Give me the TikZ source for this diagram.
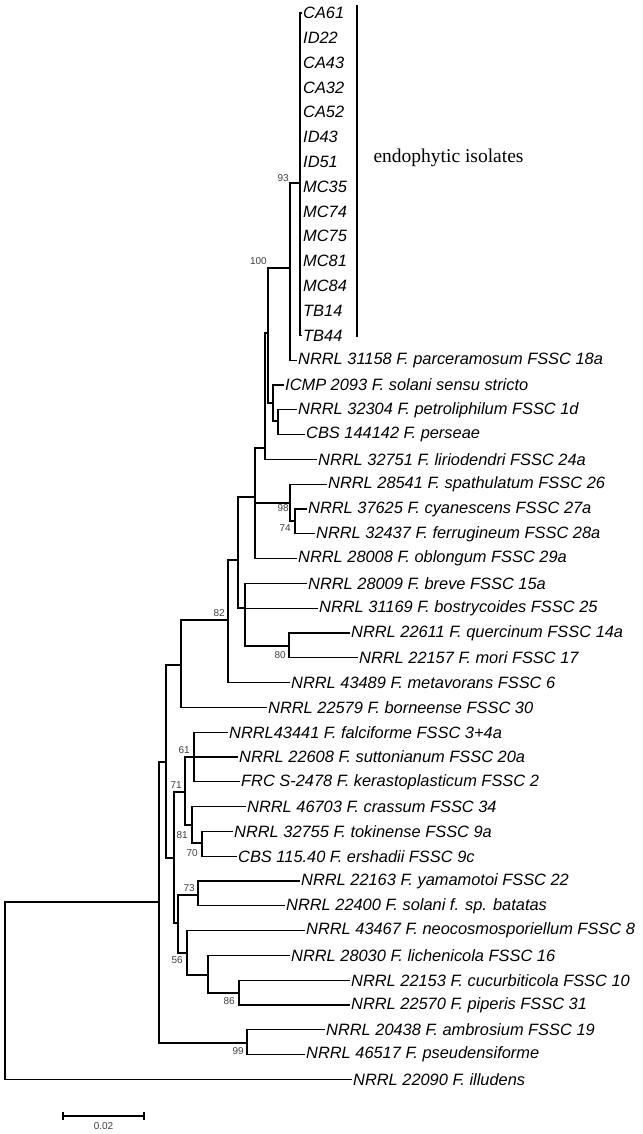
\documentclass[tikz,border=0pt]{standalone}
\usepackage{fontspec}
\setsansfont{Liberation Sans}
\setmainfont{Liberation Serif}
\tikzset{>=latex}
\tikzset{
  leaf/.style = {anchor=west, inner sep=1pt, font=\sffamily\itshape\fontsize{16.4}{16.4}\selectfont},
  boot/.style = {font=\sffamily\fontsize{10}{10}\selectfont, text=black!75, inner sep=1pt},
  branch/.style = {line width=1.1pt}
}
\begin{document}
\begin{tikzpicture}[x=1pt,y=-1pt]
  \useasboundingbox (0,0) rectangle (642,1134);
  % leaves
  \foreach \i/\lx/\txt in {
    0/302/CA61, 1/302/ID22, 2/302/CA43, 3/302/CA32, 4/302/CA52, 5/302/ID43,
    6/302/ID51, 7/302/MC35, 8/302/MC74, 9/302/MC75, 10/302/MC81, 11/302/MC84,
    12/302/TB14, 13/302/TB44,
    14/297/NRRL 31158 F. parceramosum FSSC 18a,
    15/284/ICMP 2093 F. solani sensu stricto,
    16/297/NRRL 32304 F. petroliphilum FSSC 1d,
    17/305/CBS 144142 F. perseae,
    18/317/NRRL 32751 F. liriodendri FSSC 24a,
    19/327/NRRL 28541 F. spathulatum FSSC 26,
    20/307/NRRL 37625 F. cyanescens FSSC 27a,
    21/315/NRRL 32437 F. ferrugineum FSSC 28a,
    22/297/NRRL 28008 F. oblongum FSSC 29a,
    23/307/NRRL 28009 F. breve FSSC 15a,
    24/318/NRRL 31169 F. bostrycoides FSSC 25,
    25/350/NRRL 22611 F. quercinum FSSC 14a,
    26/358/NRRL 22157 F. mori FSSC 17,
    27/290/NRRL 43489 F. metavorans FSSC 6,
    28/267/NRRL 22579 F. borneense FSSC 30,
    29/228/NRRL43441 F. falciforme FSSC 3+4a,
    30/238/NRRL 22608 F. suttonianum FSSC 20a,
    31/240/FRC S-2478 F. kerastoplasticum FSSC 2,
    32/246/NRRL 46703 F. crassum FSSC 34,
    33/233/NRRL 32755 F. tokinense FSSC 9a,
    34/237/CBS 115.40 F. ershadii FSSC 9c,
    35/300/NRRL 22163 F. yamamotoi FSSC 22,
    36/285/NRRL 22400 F. solani f. sp. batatas,
    37/305/NRRL 43467 F. neocosmosporiellum FSSC 8,
    38/290/NRRL 28030 F. lichenicola FSSC 16,
    39/350/NRRL 22153 F. cucurbiticola FSSC 10,
    40/350/NRRL 22570 F. piperis FSSC 31,
    41/325/NRRL 20438 F. ambrosium FSSC 19,
    42/305/NRRL 46517 F. pseudensiforme,
    43/352/NRRL 22090 F. illudens}
    \node[leaf] (l\i) at (\lx,13+24.8*\i) {\txt};

  % internal nodes
  \coordinate (niso) at (300,183);
  \coordinate (n93) at (290,268);
  \coordinate (nX) at (268,333);
  \coordinate (nICMP) at (273,403);
  \coordinate (nPet) at (278,421);
  \coordinate (nY) at (265,448);
  \coordinate (nW) at (255,497);
  \coordinate (n98) at (290,503);
  \coordinate (n74) at (295,521);
  \coordinate (nV) at (238,560);
  \coordinate (nBrev) at (245,608);
  \coordinate (n80) at (289,646);
  \coordinate (n82) at (228,620);
  \coordinate (nBorn) at (181,665);
  \coordinate (nUp) at (166,762);
  \coordinate (nLow) at (174,858);
  \coordinate (n71) at (185,792);
  \coordinate (n61) at (194,757);
  \coordinate (n81) at (192,825);
  \coordinate (n70) at (202,843);
  \coordinate (nSol) at (178,923);
  \coordinate (n73) at (198,895);
  \coordinate (n56) at (187,953);
  \coordinate (nLich) at (208,975);
  \coordinate (n86) at (239,993);
  \coordinate (nIn) at (159,902);
  \coordinate (n99) at (247,1043);
  \coordinate (root) at (5,1080);

  % branches
  \begin{scope}[branch]
    \draw (niso) |- (l0.west) (niso) |- (l13.west);
    \draw (n93) |- (niso) (n93) |- (l14.west);
    \draw (nX) |- (n93) (nX) |- (nICMP);
    \draw (nICMP) |- (l15.west) (nICMP) |- (nPet);
    \draw (nPet) |- (l16.west) (nPet) |- (l17.west);
    \draw (nY) |- (nX) (nY) |- (l18.west);
    \draw (nW) |- (nY) (nW) |- (n98) (nW) |- (l22.west);
    \draw (n98) |- (l19.west) (n98) |- (n74);
    \draw (n74) |- (l20.west) (n74) |- (l21.west);
    \draw (nV) |- (nW) (nV) |- (nBrev);
    \draw (nBrev) |- (l23.west) (nBrev) |- (l24.west) (nBrev) |- (n80);
    \draw (n80) |- (l25.west) (n80) |- (l26.west);
    \draw (n82) |- (nV) (n82) |- (l27.west);
    \draw (nBorn) |- (n82) (nBorn) |- (l28.west);
    \draw (nUp) |- (nBorn) (nUp) |- (nLow);
    \draw (nLow) |- (n71) (nLow) |- (nSol);
    \draw (n71) |- (n61) (n71) |- (l30.west) (n71) |- (n81);
    \draw (n61) |- (l29.west) (n61) |- (l31.west);
    \draw (n81) |- (l32.west) (n81) |- (n70);
    \draw (n70) |- (l33.west) (n70) |- (l34.west);
    \draw (nSol) |- (n73) (nSol) |- (n56);
    \draw (n73) |- (l35.west) (n73) |- (l36.west);
    \draw (n56) |- (l37.west) (n56) |- (nLich);
    \draw (nLich) |- (l38.west) (nLich) |- (n86);
    \draw (n86) |- (l39.west) (n86) |- (l40.west);
    \draw (nIn) |- (nUp) (nIn) |- (n99);
    \draw (n99) |- (l41.west) (n99) |- (l42.west);
    \draw (root) |- (nIn) (root) |- (l43.west);
  \end{scope}

  % bootstrap values
  \node[boot, anchor=south east] at (n93 |- niso) {93};
  \node[boot, anchor=south east] at (268,266) {100};
  \node[boot, anchor=north east] at (n98) {98};
  \node[boot, anchor=east] at (292,528) {74};
  \node[boot, anchor=south east] at (226,618) {82};
  \node[boot, anchor=north east] at (287,650) {80};
  \node[boot, anchor=south east] at (191,755) {61};
  \node[boot, anchor=south east] at (183,790) {71};
  \node[boot, anchor=north east] at (189,830) {81};
  \node[boot, anchor=north east] at (199,848) {70};
  \node[boot, anchor=south east] at (196,893) {73};
  \node[boot, anchor=north east] at (184,955) {56};
  \node[boot, anchor=north east] at (236,996) {86};
  \node[boot, anchor=north east] at (245,1046) {99};

  % isolate bracket
  \coordinate (isoTop) at (357,5);
  \coordinate (isoBot) at (357,337);
  \draw[line width=2pt] (isoTop) -- (isoBot);
  \node[anchor=west, font=\rmfamily\fontsize{19.5}{19.5}\selectfont] (isoLab) at (370,158) {endophytic isolates};

  % scale bar
  \coordinate (sbL) at (63,1116);
  \coordinate (sbR) at (144,1116);
  \draw[line width=1.1pt] (sbL) -- (sbR) (sbL) ++(0,-4) -- ++(0,8) (sbR) ++(0,-4) -- ++(0,8);
  \node[boot, anchor=north] (sbLab) at (103.5,1121) {0.02};
\end{tikzpicture}
\end{document}
